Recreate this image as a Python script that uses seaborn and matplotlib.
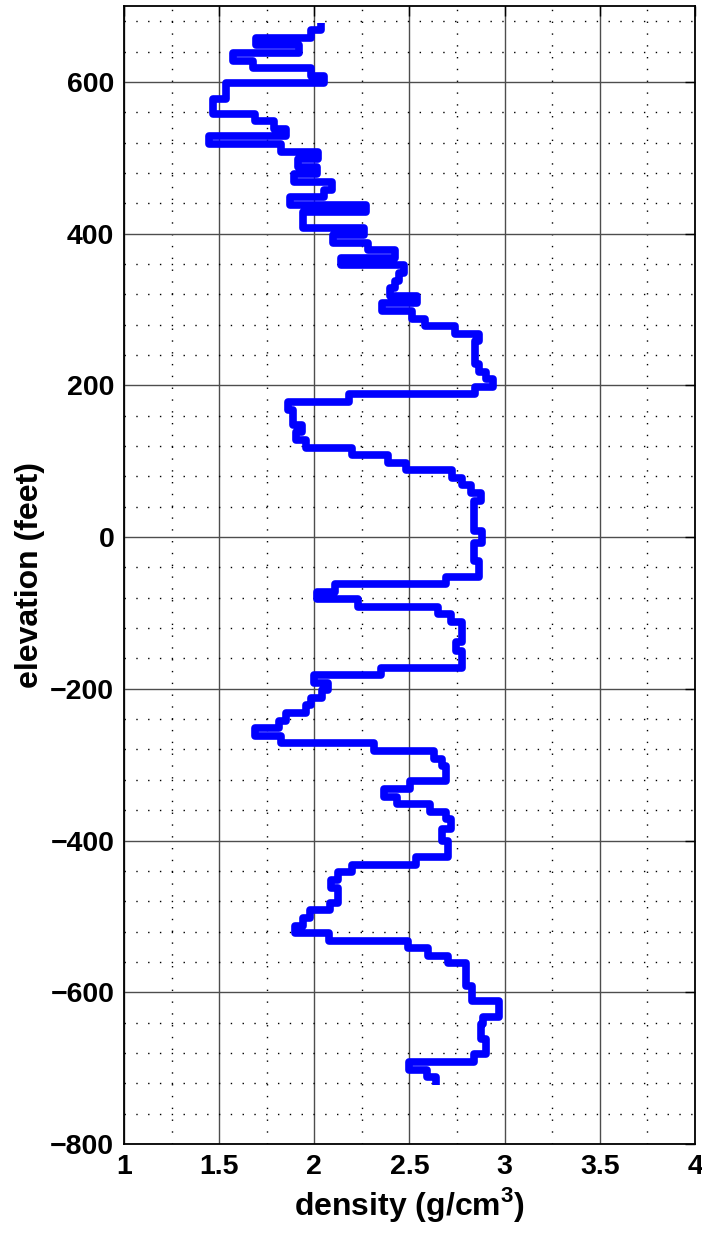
import numpy as np
import matplotlib
matplotlib.use("Agg")
import matplotlib.pyplot as plt
from matplotlib.ticker import MultipleLocator
import seaborn as sns

# Layer boundaries (elevation, feet), listed from the top of the log downward
layer_bounds = [678, 668, 658, 648, 638, 628, 618, 608, 598, 578, 558, 548, 538, 528, 518,
                508, 498, 488, 478, 468, 458, 448, 438, 428, 408, 398, 388, 378, 368, 358,
                348, 338, 328, 318, 308, 298, 288, 278, 268, 258, 228, 218, 208, 198, 188,
                178, 168, 148, 138, 128, 118, 108, 98, 88, 78, 68, 58, 48, 8, -8,
                -32, -52, -62, -72, -82, -92, -102, -112, -138, -150, -172, -182, -192, -202,
                -212, -222, -232, -242, -252, -262, -272, -282, -292, -302, -322, -332, -342,
                -352, -362, -372, -385, -400, -422, -432, -442, -452, -462, -482, -492, -502,
                -512, -522, -532, -542, -552, -562, -592, -612, -632, -642, -662, -682, -692,
                -702, -712, -722]

# Bulk density of each layer (g/cm^3)
layer_density = [2.035, 1.98, 1.695, 1.918, 1.575, 1.677, 1.98, 2.05, 1.537, 1.47, 1.69, 1.786,
                 1.851, 1.444, 1.826, 2.019, 1.914, 2.014, 1.895, 2.093, 2.053, 1.87, 2.272,
                 1.939, 2.26, 2.096, 2.28, 2.423, 2.142, 2.47, 2.447, 2.426, 2.40, 2.54, 2.353,
                 2.514, 2.584, 2.739, 2.865, 2.845, 2.866, 2.903, 2.939, 2.844, 2.18, 1.86,
                 1.886, 1.935, 1.904, 1.956, 2.2, 2.386, 2.479, 2.725, 2.777, 2.821, 2.874,
                 2.839, 2.879, 2.839, 2.866, 2.69, 2.107, 2.014, 2.228, 2.65, 2.716, 2.777,
                 2.742, 2.777, 2.35, 1.996, 2.07, 2.04, 1.98, 1.956, 1.851, 1.812, 1.69, 1.825,
                 2.312, 2.628, 2.672, 2.693, 2.505, 2.368, 2.435, 2.61, 2.69, 2.716, 2.67, 2.70,
                 2.535, 2.198, 2.124, 2.089, 2.124, 2.084, 1.975, 1.939, 1.9, 2.075, 2.493,
                 2.598, 2.703, 2.798, 2.83, 2.97, 2.886, 2.877, 2.903, 2.839, 2.496, 2.593, 2.64]

x_ticks = [1, 1.5, 2, 2.5, 3, 3.5, 4]
y_ticks = [-800, -600, -400, -200, 0, 200, 400, 600]
x_ticklabels = ["1", "1.5", "2", "2.5", "3", "3.5", "4"]
y_ticklabels = ["\u2212800", "\u2212600", "\u2212400", "\u2212200", "0", "200", "400", "600"]

sns.set_style("white")
plt.rcParams["font.family"] = ["Liberation Sans", "DejaVu Sans"]
plt.rcParams["font.weight"] = "bold"
plt.rcParams["mathtext.fontset"] = "custom"
plt.rcParams["mathtext.rm"] = "Liberation Sans:bold"
plt.rcParams["mathtext.bf"] = "Liberation Sans:bold"
for key in ("text.color", "axes.labelcolor", "xtick.color", "ytick.color"):
    plt.rcParams[key] = "black"

# step profile: each layer is a vertical run at its density, joined by horizontal jumps
xs, ys = [], []
for i, d in enumerate(layer_density):
    xs += [d, d]
    ys += [layer_bounds[i], layer_bounds[i + 1]]

fig = plt.figure(figsize=(7.02, 12.35), dpi=100)
ax = fig.add_axes([124 / 702, 1 - 1144 / 1235, (695 - 124) / 702, (1144 - 6) / 1235])

ax.set_xlim(1, 4)
ax.set_ylim(-800, 700)
ax.set_xticks(x_ticks)
ax.set_yticks(y_ticks)
ax.set_xticklabels(x_ticklabels)
ax.set_yticklabels(y_ticklabels)
ax.xaxis.set_minor_locator(MultipleLocator(0.25))
ax.yaxis.set_minor_locator(MultipleLocator(40))

ax.grid(which="major", color="0.3", linestyle="-", linewidth=1.0)
ax.grid(which="minor", color="black", linestyle=(0, (1, 7.5)), linewidth=1.0)
ax.set_axisbelow(True)

sns.lineplot(x=xs, y=ys, sort=False, estimator=None, color="#0000ff", linewidth=5.5,
             solid_joinstyle="round", solid_capstyle="butt", ax=ax, zorder=3)

for s in ax.spines.values():
    s.set_color("black")
    s.set_linewidth(1.3)

ax.tick_params(which="major", direction="in", length=7, width=1.0, color="black",
               labelcolor="black", top=True, right=True, labelsize=20.5, pad=7)
ax.tick_params(which="minor", length=0)
for lab in ax.get_xticklabels() + ax.get_yticklabels():
    lab.set_fontweight("bold")

ax.set_xlabel("density (g/cm$^{\\mathbf{3}}$)", fontsize=23, fontweight="bold",
              color="black", labelpad=4)
ax.set_ylabel("elevation (feet)", fontsize=23, fontweight="bold", color="black", labelpad=4)

fig.savefig("out.png", dpi=100)
